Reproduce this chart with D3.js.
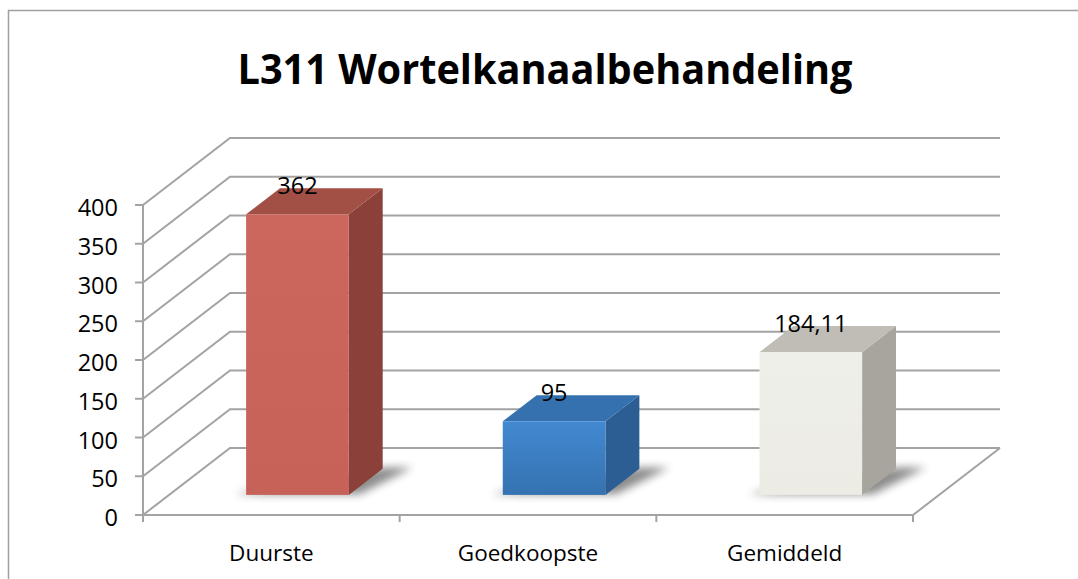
<!DOCTYPE html>
<html>
<head>
<meta charset="utf-8">
<script src="https://cdn.jsdelivr.net/npm/d3@7"></script>
<style>
  body { margin: 0; background: #fff; }
  svg { display: block; font-family: "Open Sans", sans-serif; }
</style>
</head>
<body>
<svg id="chart" width="1078" height="579"></svg>
<script>
const categories = ["Duurste", "Goedkoopste", "Gemiddeld"];
const values = [362, 95, 184.11];
const valueLabels = ["362", "95", "184,11"];
const yTicks = [0, 50, 100, 150, 200, 250, 300, 350, 400];
const title = "L311 Wortelkanaalbehandeling";

// colours per bar: front, top, side
const faceColors = [
    { front: ["#cb675c", "#c66258"], top: "#a24f46", side: "#8b4039" },
    { front: ["#4289d1", "#3572b1"], top: "#3571ae", side: "#2c5e94" },
    { front: ["#efefe9", "#ecece5"], top: "#bfbdb6", side: "#a7a59d" }
];

const svg = d3.select("#chart");

// outer frame
svg.append("rect")
    .attr("x", 8.5).attr("y", 10.5)
    .attr("width", 1090).attr("height", 600)
    .attr("fill", "none")
    .attr("stroke", "#a0a0a0")
    .attr("stroke-width", 1.5);

const x = d3.scaleBand().domain(categories).range([143, 913]);
const y = d3.scaleLinear().domain([0, 400]).range([515, 205]);

// oblique depth offset of the back wall
const DX = 87, DY = -67;
const proj = (px, v, z) => [px + z * DX, y(v) + z * DY];

const grid = svg.append("g")
    .attr("stroke", "#a3a3a3")
    .attr("stroke-width", 2)
    .attr("fill", "none");

// back wall + left wall lines
yTicks.forEach(t => {
    const a = proj(x.range()[0], t, 0);
    const b = proj(x.range()[0], t, 1);
    const c = proj(1000 - DX, t, 1);
    grid.append("polyline")
        .attr("points", [a, b, c].map(p => p.join(",")).join(" "));
});

// floor
const f0 = proj(x.range()[0], 0, 0);
const f1 = proj(x.range()[1], 0, 0);
const f2 = proj(x.range()[1], 0, 1);
grid.append("polyline")
    .attr("points", [f0, f1, f2].map(p => p.join(",")).join(" "));

// vertical axis
grid.append("line")
    .attr("x1", 143).attr("x2", 143)
    .attr("y1", y(400)).attr("y2", y(0));

yTicks.forEach(t => {
    grid.append("line")
        .attr("x1", 135).attr("x2", 143)
        .attr("y1", y(t)).attr("y2", y(t));
});

// x ticks
const xEdges = categories.map(c => x(c)).concat([x.range()[1]]);
xEdges.forEach(e => {
    grid.append("line")
        .attr("x1", e).attr("x2", e)
        .attr("y1", y(0)).attr("y2", y(0) + 7);
});

// y labels
svg.append("g")
    .selectAll("text")
    .data(yTicks)
    .enter()
    .append("text")
    .attr("x", 118)
    .attr("y", d => y(d) + 11)
    .attr("text-anchor", "end")
    .attr("font-size", 23.5)
    .attr("fill", "#000")
    .text(d => d);

// category labels
svg.append("g")
    .selectAll("text")
    .data(categories)
    .enter()
    .append("text")
    .attr("x", d => x(d) + x.bandwidth() / 2)
    .attr("y", 561)
    .attr("text-anchor", "middle")
    .attr("font-size", 22.5)
    .attr("fill", "#000")
    .text(d => d);

// title
svg.append("text")
    .attr("x", 545)
    .attr("y", 84)
    .attr("text-anchor", "middle")
    .attr("font-size", 41)
    .attr("font-weight", "bold")
    .attr("textLength", 615)
    .attr("lengthAdjust", "spacingAndGlyphs")
    .attr("fill", "#000")
    .text(title);

// bars
const defs = svg.append("defs");
defs.append("filter")
    .attr("id", "blur")
    .attr("x", "-30%").attr("y", "-30%")
    .attr("width", "160%").attr("height", "160%")
    .append("feGaussianBlur")
    .attr("stdDeviation", 4);

faceColors.forEach((c, i) => {
    const g = defs.append("linearGradient")
        .attr("id", "front" + i)
        .attr("x1", 0).attr("y1", 0).attr("x2", 0).attr("y2", 1);
    g.append("stop").attr("offset", 0).attr("stop-color", c.front[0]);
    g.append("stop").attr("offset", 1).attr("stop-color", c.front[1]);
});

const Z0 = 0.3, Z1 = 0.69;
const barW = x.bandwidth() * 0.4;
const pts = arr => arr.map(p => p.join(",")).join(" ");

const bars = svg.append("g")
    .selectAll("g")
    .data(values)
    .enter()
    .append("g");

bars.each(function (v, i) {
    const g = d3.select(this);
    const cx = x(categories[i]) + x.bandwidth() / 2;
    const l = cx - barW / 2, r = cx + barW / 2;

    // floor shadow
    g.append("polygon")
        .attr("points", pts([
            proj(l - 12, 0, Z0 + 0.01),
            proj(r + 10, 0, Z0 + 0.01),
            proj(r + 28, 0, Z1 + 0.02),
            proj(r, 0, Z1 + 0.02),
            proj(l - 4, 0, Z0 + 0.05)
        ]))
        .attr("fill", "#000")
        .attr("opacity", 0.45)
        .attr("filter", "url(#blur)");

    g.append("polygon")
        .attr("points", pts([proj(r, 0, Z0), proj(r, 0, Z1), proj(r, v, Z1), proj(r, v, Z0)]))
        .attr("fill", faceColors[i].side);

    g.append("polygon")
        .attr("points", pts([proj(l, v, Z0), proj(r, v, Z0), proj(r, v, Z1), proj(l, v, Z1)]))
        .attr("fill", faceColors[i].top);

    const fl = proj(l, v, Z0), fr = proj(r, 0, Z0);
    g.append("rect")
        .attr("x", fl[0]).attr("y", fl[1])
        .attr("width", fr[0] - fl[0])
        .attr("height", fr[1] - fl[1])
        .attr("fill", `url(#front${i})`);

    g.append("text")
        .attr("x", proj(cx, v, Z0)[0])
        .attr("y", proj(cx, v, Z0)[1] - 20)
        .attr("text-anchor", "middle")
        .attr("font-size", 23.5)
        .attr("fill", "#000")
        .text(valueLabels[i]);
});
</script>
</body>
</html>
